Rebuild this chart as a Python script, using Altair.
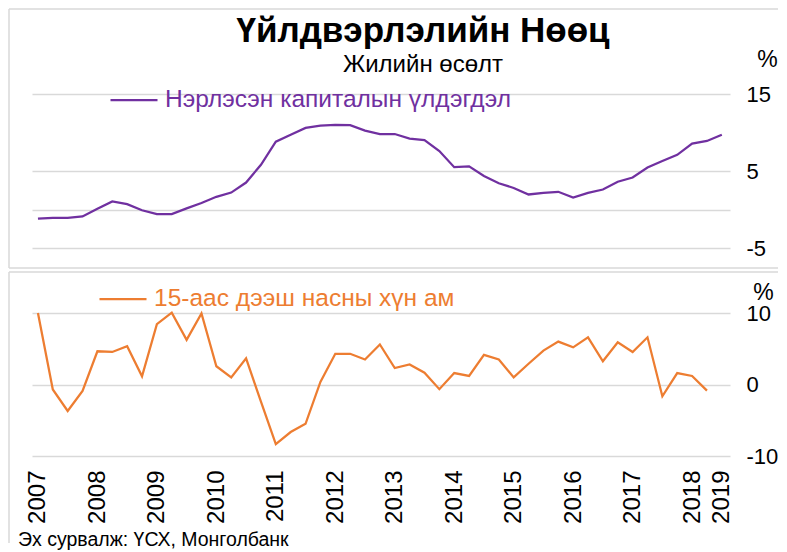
import altair as alt
import pandas as pd

TITLE = "Үйлдвэрлэлийн Нөөц"
SUBTITLE = "Жилийн өсөлт"
SOURCE = "Эх сурвалж: ҮСХ, Монголбанк"
CAPITAL_NAME = "Нэрлэсэн капиталын үлдэгдэл"
POP_NAME = "15-аас дээш насны хүн ам"

# quarterly annual growth, %, starting 2007 Q1
capital = [-1.2, -1.1, -1.1, -0.9, 0.1, 1.05, 0.7, -0.1, -0.6, -0.6, 0.15, 0.85,
           1.65, 2.2, 3.5, 5.8, 8.8, 9.7, 10.6, 10.9, 11.0, 10.95, 10.25, 9.8,
           9.8, 9.2, 9.0, 7.6, 5.5, 5.6, 4.35, 3.4, 2.8, 1.95, 2.15, 2.3,
           1.55, 2.15, 2.6, 3.6, 4.15, 5.45, 6.3, 7.1, 8.55, 8.9, 9.7]
population = [10.0, -0.7, -3.7, -0.9, 4.65, 4.55, 5.35, 1.15, 8.45, 10.05, 6.25, 9.95,
              2.55, 1.0, 3.65, -2.4, -8.35, -6.65, -5.5, 0.35, 4.3, 4.3, 3.5, 5.6,
              2.3, 2.8, 1.65, -0.65, 1.6, 1.2, 4.15, 3.5, 1.0, 2.9, 4.75, 6.0,
              5.2, 6.6, 3.25, 5.9, 4.55, 6.6, -1.65, 1.6, 1.2, -0.85]

year_labels = ["2007", "2008", "2009", "2010", "2011", "2012", "2013",
               "2014", "2015", "2016", "2017", "2018", "2019"]
year_ticks = [0, 4, 8, 12, 16, 20, 24, 28, 32, 36, 40, 44, 46]
top_y_ticks = [-5, 0, 5, 15]
bottom_y_ticks = [-10, 0, 10]

FONT = "Liberation Sans"
PURPLE = "#7030A0"
ORANGE = "#ED7D31"
GRID = "#d9d9d9"

top_df = pd.DataFrame({"q": list(range(len(capital))), "v": capital, "s": CAPITAL_NAME})
bot_df = pd.DataFrame({"q": list(range(len(population))), "v": population, "s": POP_NAME})

x_scale = alt.Scale(domain=[-0.4, 46.55], nice=False, zero=False)

year_expr = ("[" + ",".join("'%s'" % y for y in year_labels) + "][indexof(["
             + ",".join(str(t) for t in year_ticks) + "], datum.value)]")


def y_axis(values, expr, tx, ty):
    return alt.Axis(orient="right", values=values, labelExpr=expr, grid=True,
                    gridColor=GRID, gridWidth=1.6, ticks=False, domain=False,
                    labelFontSize=22, labelFont=FONT, labelColor="black",
                    labelPadding=16, labelAlign="left", title="%", titleAngle=0,
                    titleX=tx, titleY=ty, titleAlign="center", titleBaseline="middle",
                    titleFontSize=23, titleFont=FONT, titleFontWeight="normal",
                    titleColor="black")


def legend(x, y, color):
    return alt.Legend(orient="none", legendX=x, legendY=y, title=None,
                      symbolType="stroke", symbolSize=2209, symbolStrokeWidth=2.25,
                      labelFontSize=24.5, labelFont=FONT, labelColor=color,
                      labelLimit=800, labelOffset=6, padding=0)


one = alt.Data(values=[{}])


def frame_rules(y_top, y_bottom, with_bottom):
    parts = [
        alt.Chart(one).mark_rule(color=GRID, strokeWidth=1.5).encode(
            x=alt.value(-23), x2=alt.value(746), y=alt.value(y_top)),
        alt.Chart(one).mark_rule(color=GRID, strokeWidth=1.5).encode(
            x=alt.value(-23), y=alt.value(y_top), y2=alt.value(y_bottom)),
    ]
    if with_bottom:
        parts.append(alt.Chart(one).mark_rule(color=GRID, strokeWidth=1.5).encode(
            x=alt.value(-23), x2=alt.value(746), y=alt.value(y_bottom)))
    return parts


top_line = alt.Chart(top_df).mark_line(strokeWidth=2.25).encode(
    x=alt.X("q:Q", scale=x_scale, axis=None),
    y=alt.Y("v:Q", scale=alt.Scale(domain=[-5, 15], nice=False, zero=False),
            axis=y_axis(top_y_ticks, "datum.value == 0 ? '' : '' + datum.value", 37, -35)),
    color=alt.Color("s:N", scale=alt.Scale(domain=[CAPITAL_NAME], range=[PURPLE]),
                    legend=legend(77, -19, PURPLE)),
)

top = alt.layer(top_line, *frame_rules(-85, 174, True)).properties(
    width=698, height=154,
    title=alt.Title(TITLE, subtitle=SUBTITLE, fontSize=35, font=FONT, fontWeight="bold",
                    color="black", subtitleFontSize=24, subtitleFont=FONT,
                    subtitleColor="black", subtitlePadding=4, anchor="middle",
                    frame="group", dx=42, offset=-69),
)

bottom_line = alt.Chart(bot_df).mark_line(strokeWidth=2.25).encode(
    x=alt.X("q:Q", scale=x_scale,
            axis=alt.Axis(values=year_ticks, labelExpr=year_expr, labelAngle=270,
                          grid=False, ticks=False, domain=False, labelFontSize=24,
                          labelFont=FONT, labelColor="black", labelPadding=14,
                          labelFlush=False, labelOverlap=False, title=None)),
    y=alt.Y("v:Q", scale=alt.Scale(domain=[-10, 10], nice=False, zero=False),
            axis=y_axis(bottom_y_ticks, "'' + datum.value", 33, -21)),
    color=alt.Color("s:N", scale=alt.Scale(domain=[POP_NAME], range=[ORANGE]),
                    legend=legend(66, -39, ORANGE)),
)

bottom = alt.layer(bottom_line, *frame_rules(-41, 230, False)).properties(
    width=698, height=143,
    title=alt.Title(SOURCE, orient="bottom", anchor="start", frame="group", dx=-14,
                    fontSize=19.5, font=FONT, fontWeight="normal", color="black",
                    offset=-12.5),
)

chart = alt.vconcat(top, bottom, spacing=65, bounds="flush").resolve_scale(
    x="shared", y="independent", color="independent"
).resolve_legend(color="independent").properties(
    padding={"left": 0, "top": 0, "right": 0, "bottom": 0}
).configure_view(stroke=None)

chart.save("out.html", embed_options={"renderer": "svg", "actions": False})
